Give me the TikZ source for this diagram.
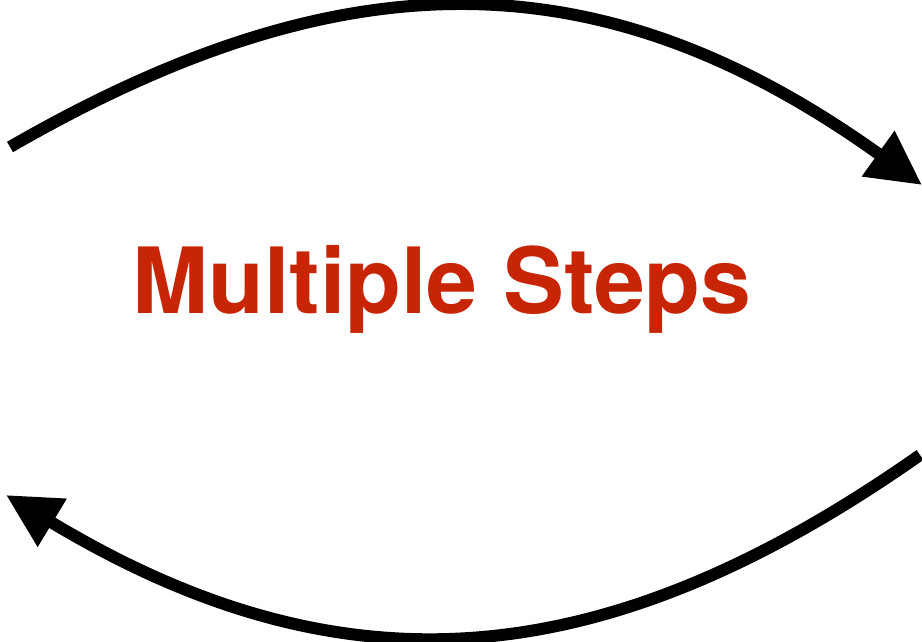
\documentclass[tikz,border=0pt]{standalone}
\usepackage{fontspec}
\setsansfont{TeX Gyre Heros}
\usetikzlibrary{arrows.meta}
\definecolor{stepred}{RGB}{200,37,6}

\begin{document}
\begin{tikzpicture}[
  font=\sffamily,
  loop/.style={line width=0.12cm,-{Triangle[length=0.54cm,width=0.53cm]}},
  title/.style={font=\sffamily\bfseries\fontsize{26}{30}\selectfont,text=stepred,inner sep=0pt}
]
\useasboundingbox (0,0) rectangle (9.22,6.41);

\coordinate (topstart) at (0.10,4.94);
\coordinate (topend) at (9.22,4.56);
\coordinate (botstart) at (9.20,1.86);
\coordinate (botend) at (0.06,1.46);

\node[title,anchor=base] (steps) at (4.42,3.28) {Multiple Steps};

\draw[loop] (topstart) .. controls (3.48,6.89) and (6.05,6.83) .. (topend);
\draw[loop] (botstart) .. controls (6.01,-0.38) and (3.40,-0.55) .. (botend);
\end{tikzpicture}
\end{document}
